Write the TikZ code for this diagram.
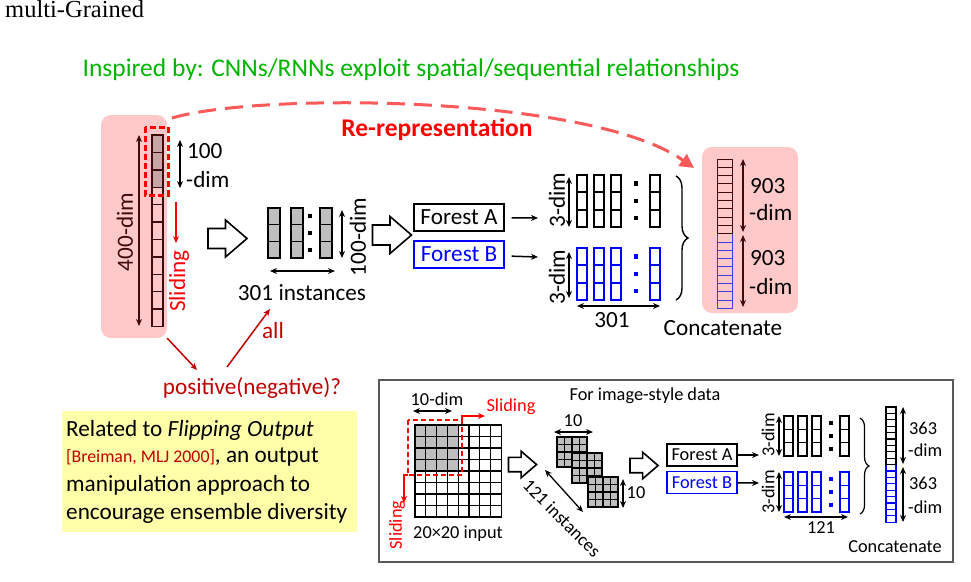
\documentclass[tikz,border=0pt]{standalone}
\usepackage{fontspec}
\setmainfont{Carlito}
\newfontfamily\serifmain{Liberation Serif}
\usetikzlibrary{arrows.meta,decorations.pathreplacing}
\definecolor{pinkbg}{RGB}{255,201,201}
\definecolor{incol}{RGB}{62,12,12}
\definecolor{darkred}{RGB}{192,0,0}
\definecolor{insgreen}{RGB}{0,180,0}
\definecolor{salmon}{RGB}{250,90,90}
\definecolor{notebg}{RGB}{255,255,170}
\definecolor{cellgray}{RGB}{190,190,190}
\definecolor{ingray}{RGB}{200,165,165}
\definecolor{catblue}{RGB}{70,60,220}
\begin{document}
\begin{tikzpicture}[x=1pt,y=-1pt,>={Stealth[length=7pt,width=6pt]}]
		\tikzset{
			big/.style={font=\fontsize{23.2}{27}\selectfont, inner sep=0pt},
			small/.style={font=\fontsize{18.3}{22}\selectfont, inner sep=0pt},
			dimarr/.style={<->, line width=1.3pt},
			conn/.style={->, line width=1.5pt},
			redarr/.style={->, line width=1.5pt, darkred},
			forest/.style={draw, line width=1.4pt, minimum width=90pt, minimum height=27pt, big},
			sforest/.style={forest, small, minimum width=70pt, minimum height=22pt},
			hollow/.pic={
				\draw[line width=1.6pt, fill=white] (-19.5,-10) -- (-2,-10) -- (-2,-18.5) -- (19.5,0) -- (-2,18.5) -- (-2,10) -- (-19.5,10) -- cycle;
			}
		}
		\fill[white] (0,0) rectangle (971,581);
		\useasboundingbox (0,0) rectangle (971,581);
		
		\node[font=\serifmain\fontsize{24.5}{26}\selectfont, inner sep=0pt, anchor=west] (title) at (5,9) {multi-Grained};
		\node[font=\fontsize{25.5}{30}\selectfont, inner sep=0pt, insgreen] (insp) at (411,70) {Inspired by: CNNs/RNNs exploit spatial/sequential relationships};
		
		% input vector
		\node[fill=pinkbg, rounded corners=10pt, minimum width=66pt, minimum height=223pt, inner sep=0pt] (inp) at (134,226.5) {};
		\foreach \i in {0,1,2}{
			\fill[ingray] (152,135+\i*17.4) rectangle ++(11,17.4);
		}
		\foreach \i in {0,...,10}{
			\draw[incol, line width=1.4pt] (152,135+\i*17.4) rectangle ++(11,17.4);
		}
		\draw[red, line width=3pt, dash pattern=on 6pt off 3pt] (145,127) rectangle (168,195);
		\draw[dimarr, incol] (139,135) -- (139,326);
		\node[big, incol, rotate=90] (d400) at (125,232) {400-dim};
		\draw[dimarr] (180,140) -- (180,188);
		\node[big, anchor=west] (d100a) at (187,151) {100};
		\node[big, anchor=west] (d100b) at (186,180) {-dim};
		\draw[->, red, line width=1.5pt] (176,202) -- (176,243);
		\node[big, red, rotate=90] (slide) at (179,281) {Sliding};
		
		\pic at (227.5,238.5) {hollow};
		
		% instances
		\foreach \x in {268,291,320}{
			\foreach \j in {0,1,2}{
				\draw[fill=cellgray, line width=1.3pt] (\x,208+\j*16.7) rectangle ++(12,16.7);
			}
		}
		\foreach \j in {0,1,2}{
			\fill (310,216.3+\j*16.7) ++(-2,-2) rectangle ++(4,4);
		}
		\draw[dimarr] (342,210) -- (342,258);
		\node[big, rotate=90] (d100c) at (358,237) {100-dim};
		\draw[dimarr] (270,271) -- (335,271);
		\node[big] (inst) at (302,293) {301 instances};
		
		\pic at (392,235) {hollow};
		
		% forests
		\node[forest] (fa) at (459,217.5) {Forest A};
		\node[forest, blue] (fb) at (459,254.5) {Forest B};
		\coordinate (ga) at (538,218);
		\coordinate (gb) at (538,257);
		\draw[conn, shorten <=7pt] (fa) -- (ga);
		\draw[conn, shorten <=7pt] (fb) -- (gb);
		
		\foreach \x in {577,594,611,650}{
			\foreach \j in {0,1,2}{
				\draw[line width=2pt] (\x,175+\j*17.3) rectangle ++(10,17.3);
				\draw[blue, line width=2pt] (\x,248+\j*17.3) rectangle ++(10,17.3);
			}
		}
		\foreach \j in {0,1,2}{
			\fill (636,183.6+\j*17.3) ++(-2.2,-2.2) rectangle ++(4.4,4.4);
			\fill[blue] (636,256.6+\j*17.3) ++(-2.2,-2.2) rectangle ++(4.4,4.4);
		}
		\draw[dimarr] (569,177) -- (569,227);
		\node[big, rotate=90] (d3a) at (557,200) {3-dim};
		\draw[dimarr] (569,252) -- (569,298);
		\node[big, rotate=90] (d3b) at (557,277) {3-dim};
		\draw[dimarr] (577,306) -- (660,306);
		\node[big] (n301) at (612,320) {301};
		\draw[line width=1.4pt, decorate, decoration={brace, amplitude=12pt}] (676,176) -- (676,300);
		
		% concatenated vector
		\node[fill=pinkbg, rounded corners=10pt, minimum width=96pt, minimum height=166pt, inner sep=0pt] (cat) at (750,230) {};
		\foreach \i in {0,...,8}{
			\draw[incol, line width=1pt] (717,159+\i*8.3) rectangle ++(15,8.3);
			\draw[catblue, line width=1pt] (717,233.7+\i*8.3) rectangle ++(15,8.3);
		}
		\draw[dimarr, incol] (743,159) -- (743,232);
		\draw[dimarr, incol] (743,235) -- (743,307);
		\node[big, anchor=west] (d903a) at (750,186) {903};
		\node[big, anchor=west] (d903b) at (749,213) {-dim};
		\node[big, anchor=west] (d903c) at (750,258) {903};
		\node[big, anchor=west] (d903d) at (749,287) {-dim};
		\node[big] (concat) at (723,328) {Concatenate};
		
		% re-representation
		\node[red, inner sep=0pt, font=\fontsize{25.5}{30}\selectfont\bfseries] (rerep) at (437,130) {Re-representation};
		\coordinate (rrs) at (172,118);
		\coordinate (rre) at (694,168);
		\draw[salmon, line width=3pt, dash pattern=on 18pt off 9pt, -{Triangle[length=14pt,width=14pt]}] (rrs) .. controls (260,92) and (590,95) .. (rre);
		
		% positive / all
		\node[big, darkred] (pos) at (252,388) {positive(negative)?};
		\node[big, darkred] (all) at (273,331) {all};
		\coordinate (postip) at (197,370);
		\coordinate (allbase) at (227,367);
		\coordinate (alltip) at (270,309);
		\draw[redarr] (inp.south east) -- (postip);
		\draw[redarr] (allbase) -- (alltip);
		
		% note
		\node[fill=notebg, minimum width=295pt, minimum height=121pt, inner sep=0pt] (note) at (209.5,471.5) {};
		\node[big, anchor=west] (nt1) at (66,430) {Related to \textit{Flipping Output}};
		\node[big, anchor=west] (nt2) at (66,457) {{\color{darkred}\fontsize{17.8}{20}\selectfont[Breiman, MLJ 2000]}, an output};
		\node[big, anchor=west] (nt3) at (66,485) {manipulation approach to};
		\node[big, anchor=west] (nt4) at (66,513) {encourage ensemble diversity};
		
		% image-style data
		\draw[black!65, line width=1.2pt] (379,380) rectangle (953,562);
		\node[small] (imgtitle) at (645,396) {For image-style data};
		\foreach \i in {0,...,3}{
			\foreach \j in {0,...,3}{
				\fill[cellgray] (415+\i*10.8,425+\j*11.5) rectangle ++(10.8,11.5);
			}
		}
		\foreach \i in {0,...,7}{
			\foreach \j in {0,...,7}{
				\draw[line width=1.3pt] (415+\i*10.8,425+\j*11.5) rectangle ++(10.8,11.5);
			}
		}
		\draw[red, line width=2pt, dash pattern=on 5pt off 3pt] (408,420) rectangle (462,475);
		\draw[->, red, line width=1.5pt] (462,420) -- (462,416) -- (485,416);
		\draw[->, red, line width=1.5pt] (408,475) -- (404,475) -- (404,503);
		\draw[dimarr] (413,411) -- (452,411);
		\node[small] (d10) at (437,399) {10-dim};
		\node[small, red] (sl1) at (511,407) {Sliding};
		\node[small, red, rotate=90] (sl2) at (397,525) {Sliding};
		\node[small] (inp20) at (458,534) {20×20 input};
		
		\pic[scale=0.72] at (522.5,464.5) {hollow};
		
		\foreach \gx/\gy in {557/437, 572/453, 588/477}{
			\fill[cellgray] (\gx,\gy) rectangle ++(30,30);
			\foreach \i in {0,...,3}{
				\foreach \j in {0,...,3}{
					\draw[line width=1.2pt] (\gx+\i*7.5,\gy+\j*7.5) rectangle ++(7.5,7.5);
				}
			}
		}
		\draw[dimarr] (554,432) -- (593,432);
		\node[small] (t10) at (573,421) {10};
		\draw[dimarr] (623,479) -- (623,508);
		\node[small] (r10) at (636,493) {10};
		\draw[dimarr] (545,470) -- (583,512);
		\node[small, rotate=-45] (inst121) at (562,518) {121 instances};
		
		\pic[scale=0.72] at (644,465.5) {hollow};
		
		\node[sforest] (sfa) at (702,455) {Forest A};
		\node[sforest, blue] (sfb) at (702,482.5) {Forest B};
		\coordinate (sga) at (759,455);
		\coordinate (sgb) at (759,483);
		\draw[conn] (sfa) -- (sga);
		\draw[conn] (sfb) -- (sgb);
		
		\foreach \x in {784,798,812,840}{
			\foreach \j in {0,1,2}{
				\draw[line width=1.6pt] (\x,416+\j*13.3) rectangle ++(9,13.3);
				\draw[blue, line width=1.6pt] (\x,472+\j*13.3) rectangle ++(9,13.3);
			}
		}
		\foreach \j in {0,1,2}{
			\fill (831,422.6+\j*13.3) ++(-2,-2) rectangle ++(4,4);
			\fill[blue] (831,478.6+\j*13.3) ++(-2,-2) rectangle ++(4,4);
		}
		\draw[dimarr] (779,416) -- (779,456);
		\node[small, rotate=90] (s3a) at (768,435) {3-dim};
		\draw[dimarr] (779,472) -- (779,512);
		\node[small, rotate=90] (s3b) at (768,492) {3-dim};
		\draw[dimarr] (784,517) -- (848,517);
		\node[small] (n121) at (821,528) {121};
		\draw[line width=1.2pt, decorate, decoration={brace, amplitude=9pt}] (860,418) -- (860,514);
		
		\foreach \i in {0,...,8}{
			\draw[line width=1.2pt] (886,407+\i*6.4) rectangle ++(10,6.4);
			\draw[blue, line width=1.2pt] (886,464.6+\i*6.4) rectangle ++(10,6.4);
		}
		\draw[dimarr] (903,407) -- (903,464);
		\draw[dimarr] (903,467) -- (903,522);
		\node[small, anchor=west] (s363a) at (909,428) {363};
		\node[small, anchor=west] (s363b) at (908,450) {-dim};
		\node[small, anchor=west] (s363c) at (909,483) {363};
		\node[small, anchor=west] (s363d) at (908,507) {-dim};
		\node[small] (sconcat) at (895,547) {Concatenate};
\end{tikzpicture}
\end{document}
